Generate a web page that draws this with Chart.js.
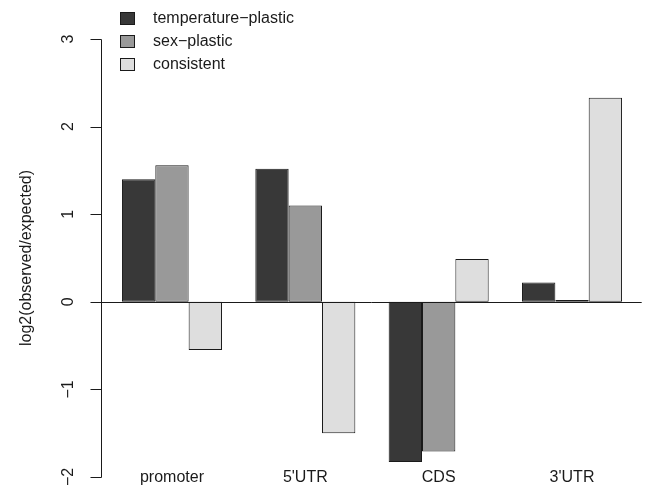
<!DOCTYPE html>
<html>
<head>
<meta charset="utf-8">
<script src="https://cdn.jsdelivr.net/npm/chart.js@4/dist/chart.umd.min.js"></script>
<style>html,body{margin:0;padding:0;background:#fff}</style>
</head>
<body>
<canvas id="c" width="645" height="489"></canvas>
<script>
const regions = ["promoter", "5'UTR", "CDS", "3'UTR"];
const temperaturePlastic = [1.40, 1.52, -1.83, 0.22];
const sexPlastic = [1.56, 1.10, -1.71, 0.02];
const consistent = [-0.55, -1.50, 0.49, 2.33];
const yTicks = [-2, -1, 0, 1, 2, 3];
const seriesNames = ["temperature\u2212plastic", "sex\u2212plastic", "consistent"];
const seriesColors = ["#383838", "#999999", "#dedede"];

const FONT = '16px "Liberation Sans", Arial, sans-serif';
const INK = "#1a1a1a";

// R-style axes, labels and legend drawn on top of the chart
const rStyle = {
  id: "rStyle",
  afterDatasetsDraw(chart) {
    const { ctx, chartArea, scales } = chart;
    const y = scales.y, x = scales.x;
    const ax = Math.round(chartArea.left - 4) + 0.5;
    ctx.save();
    ctx.strokeStyle = INK;
    ctx.lineWidth = 1;

    // zero line across the plot region
    const y0 = Math.round(y.getPixelForValue(0)) + 0.5;
    ctx.beginPath();
    ctx.moveTo(ax, y0);
    ctx.lineTo(chartArea.right + 3, y0);
    ctx.stroke();

    // y axis line + ticks
    const yTop = Math.round(y.getPixelForValue(yTicks[yTicks.length - 1])) + 0.5;
    const yBot = Math.round(y.getPixelForValue(yTicks[0])) + 0.5;
    ctx.beginPath();
    ctx.moveTo(ax, yTop);
    ctx.lineTo(ax, yBot);
    yTicks.forEach(t => {
      const py = Math.round(y.getPixelForValue(t)) + 0.5;
      ctx.moveTo(ax, py);
      ctx.lineTo(ax - 11, py);
    });
    ctx.stroke();

    // rotated tick labels
    ctx.fillStyle = INK;
    ctx.font = FONT;
    ctx.textAlign = "center";
    ctx.textBaseline = "middle";
    yTicks.forEach(t => {
      const py = y.getPixelForValue(t);
      ctx.save();
      ctx.translate(68, py);
      ctx.rotate(-Math.PI / 2);
      ctx.fillText(String(t).replace("-", "\u2212"), 0, 1);
      ctx.restore();
    });

    // axis title
    ctx.save();
    ctx.translate(27, (y.getPixelForValue(-2.2) + y.getPixelForValue(3.2)) / 2);
    ctx.rotate(-Math.PI / 2);
    ctx.fillText("log2(observed/expected)", 0, 0);
    ctx.restore();

    // category names
    regions.forEach((r, i) => {
      ctx.fillText(r, x.getPixelForValue(i), 478);
    });

    // legend
    ctx.textAlign = "left";
    chart.data.datasets.forEach((ds, i) => {
      const top = 12 + i * 23;
      ctx.fillStyle = ds.backgroundColor;
      ctx.fillRect(120.5, top + 0.5, 14, 12);
      ctx.strokeRect(120.5, top + 0.5, 14, 12);
      ctx.fillStyle = INK;
      ctx.fillText(ds.label, 153, top + 7);
    });
    ctx.restore();
  }
};

new Chart(document.getElementById("c"), {
  type: "bar",
  data: {
    labels: regions,
    datasets: [temperaturePlastic, sexPlastic, consistent].map((d, i) => ({
      label: seriesNames[i],
      data: d,
      backgroundColor: seriesColors[i],
      borderColor: INK,
      borderWidth: 1,
      borderSkipped: false,
      categoryPercentage: 0.75,
      barPercentage: 1
    }))
  },
  options: {
    responsive: false,
    animation: false,
    layout: { padding: { left: 105.3, right: 6.3, top: 39, bottom: 12 } },
    scales: {
      x: { display: false },
      y: { display: false, min: -2, max: 3 }
    },
    plugins: { legend: { display: false }, tooltip: { enabled: false } }
  },
  plugins: [rStyle]
});
</script>
</body>
</html>
